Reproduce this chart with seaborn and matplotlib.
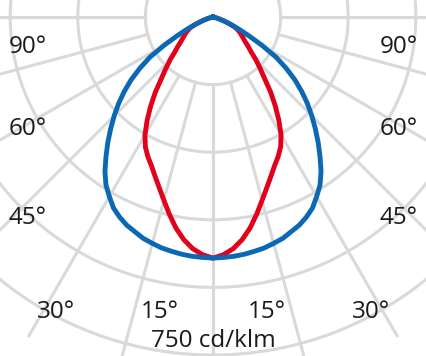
import numpy as np
import pandas as pd
import seaborn as sns
import matplotlib
matplotlib.use("Agg")
import matplotlib.pyplot as plt

plt.rcParams['font.family'] = ['Open Sans', 'DejaVu Sans']

# Luminous intensity (cd/klm) versus angle from nadir (degrees), symmetric curves
angles = [0, 2.5, 5, 7.5, 10, 12.5, 15, 17.5, 20, 22.5, 25, 27.5, 30, 32.5, 35,
          37.5, 40, 42.5, 45, 47.5, 50, 52.5, 55, 57.5, 60, 62.5, 65, 67.5, 70,
          72.5, 75, 77.5, 80]
blue_cd = [535, 534, 533, 531, 528, 525, 520, 515, 507, 500, 490, 478, 460, 442,
           418, 390, 363, 336, 310, 284, 257, 229, 198, 166, 125, 88, 62, 42, 27,
           16, 8, 3, 0]
red_cd = [535, 528, 516, 498, 475, 448, 421, 397, 376, 357, 342, 325, 302, 272,
          241, 210, 178, 155, 135, 115, 102, 90, 82, 75, 69, 62, 55, 40, 27,
          16, 8, 3, 0]

ring_values = [150, 300, 450, 600, 750]
spoke_angles = list(range(0, 360, 15))
left_labels = ["90°", "60°", "45°", "30°", "15°"]
right_labels = ["90°", "60°", "45°", "30°", "15°"]
scale_label = "750 cd/klm"

BLUE = "#0a68b4"
RED = "#e2001a"
GRID = "#d9d9d9"
TEXT = "#1a1a1a"


def mirrored(vals):
    th = [-a for a in angles[::-1]] + angles[1:]
    rr = vals[::-1] + vals[1:]
    return np.deg2rad(th), rr


rows = []
for name, vals in (("C90-C270", red_cd), ("C0-C180", blue_cd)):
    th, rr = mirrored(vals)
    for t, r in zip(th, rr):
        rows.append({"series": name, "theta": t, "r": r})
df = pd.DataFrame(rows)

W, H = 427, 356
fig = plt.figure(figsize=(W / 100, H / 100), dpi=100)

cx, cy = 213.0, 17.0           # pixel position of the pole (top-left origin)
px_per_unit = 67.6 / 150.0
rmax = 820
R = rmax * px_per_unit
ax = fig.add_axes([(cx - R) / W, (H - cy - R) / H, 2 * R / W, 2 * R / H],
                  projection='polar')
ax.set_theta_zero_location('S')
ax.set_rlim(0, rmax)
ax.grid(False)
ax.set_xticks([])
ax.set_yticks([])
ax.spines['polar'].set_visible(False)
ax.patch.set_alpha(0)

full = np.linspace(0, 2 * np.pi, 720)
for rv in ring_values:
    ax.plot(full, np.full_like(full, rv), color=GRID, lw=2.2, zorder=1)
for a in spoke_angles:
    ax.plot([np.deg2rad(a)] * 2, [ring_values[0], rmax], color=GRID, lw=2.2, zorder=1)

sns.lineplot(data=df, x="theta", y="r", hue="series",
             hue_order=["C90-C270", "C0-C180"],
             palette={"C0-C180": BLUE, "C90-C270": RED},
             sort=False, estimator=None, legend=False, ax=ax, lw=3.5, zorder=3)
ax.set_xlabel("")
ax.set_ylabel("")
ax.set_rlim(0, rmax)
ax.set_xticks([])
ax.set_yticks([])

fs = 17.5
left_pos = [(28, 53), (28, 135), (28, 224), (56, 318), (160, 318)]
right_pos = [(399, 53), (399, 135), (399, 224), (371, 318), (267, 318)]
for lab, (x, y) in zip(left_labels, left_pos):
    fig.text(x / W, 1 - y / H, lab, ha='center', va='baseline', fontsize=fs, color=TEXT)
for lab, (x, y) in zip(right_labels, right_pos):
    fig.text(x / W, 1 - y / H, lab, ha='center', va='baseline', fontsize=fs, color=TEXT)
fig.text(213 / W, 1 - 347 / H, scale_label, ha='center', va='baseline', fontsize=fs, color=TEXT)

fig.savefig("out.png", dpi=100)
